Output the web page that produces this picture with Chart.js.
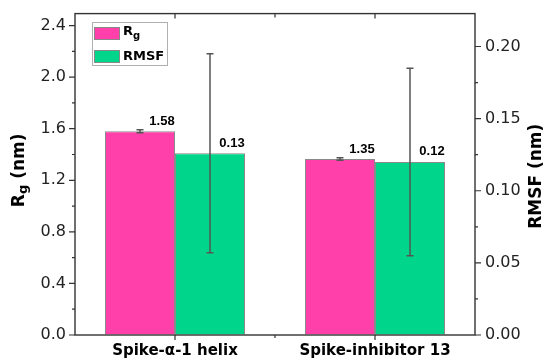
<!DOCTYPE html>
<html>
<head>
<meta charset="utf-8">
<script src="https://cdn.jsdelivr.net/npm/chart.js@4/dist/chart.umd.min.js"></script>
<style>
  html, body { margin: 0; padding: 0; background: #fff; }
  #wrap { width: 547px; height: 363px; }
</style>
</head>
<body>
<div id="wrap"><canvas id="chart" width="547" height="363"></canvas></div>
<script>
const categories = ["Spike-α-1 helix", "Spike-inhibitor 13"];
const rgValues = [1.58, 1.365];
const rgErrors = [0.012, 0.01];
const rmsfValues = [0.126, 0.12];
const rmsfErrors = [0.069, 0.065];
const rgText = ["1.58", "1.35"];
const rmsfText = ["0.13", "0.12"];
const rgTicks = [0, 0.4, 0.8, 1.2, 1.6, 2.0, 2.4];
const rmsfTicks = [0, 0.05, 0.1, 0.15, 0.2];

const PINK = "#ff40aa";
const GREEN = "#00d68b";
const AXIS = "#333";
const ERR = "#555";

function midpoints(arr) {
  const out = [];
  for (let i = 0; i < arr.length - 1; i++) out.push((arr[i] + arr[i + 1]) / 2);
  return out;
}

// draws text parts in a row, some of them as subscripts
function drawParts(ctx, parts, x, y) {
  let w = 0;
  parts.forEach(p => { ctx.font = p.font; w += ctx.measureText(p.text).width; });
  let cx = x;
  parts.forEach(p => {
    ctx.font = p.font;
    ctx.fillText(p.text, cx, y + (p.sub || 0));
    cx += ctx.measureText(p.text).width;
  });
  return w;
}

function partsWidth(ctx, parts) {
  let w = 0;
  parts.forEach(p => { ctx.font = p.font; w += ctx.measureText(p.text).width; });
  return w;
}

const decor = {
  id: "decor",
  afterDatasetsDraw(chart) {
    const ctx = chart.ctx;
    const errs = [rgErrors, rmsfErrors];
    const vals = [rgValues, rmsfValues];
    const texts = [rgText, rmsfText];
    ctx.save();
    [0, 1].forEach(di => {
      const meta = chart.getDatasetMeta(di);
      const scale = chart.scales[meta.yAxisID];
      meta.data.forEach((bar, i) => {
        const top = scale.getPixelForValue(vals[di][i] + errs[di][i]);
        const bot = scale.getPixelForValue(vals[di][i] - errs[di][i]);
        ctx.strokeStyle = ERR;
        ctx.lineWidth = 1.5;
        ctx.beginPath();
        ctx.moveTo(bar.x, top); ctx.lineTo(bar.x, bot);
        ctx.moveTo(bar.x - 3.5, top); ctx.lineTo(bar.x + 3.5, top);
        ctx.moveTo(bar.x - 3.5, bot); ctx.lineTo(bar.x + 3.5, bot);
        ctx.stroke();
        ctx.fillStyle = "#000";
        ctx.font = "bold 13px 'Liberation Sans', Arial, sans-serif";
        ctx.textAlign = "center";
        ctx.textBaseline = "middle";
        ctx.fillText(texts[di][i], bar.x + 22, bar.y - 10);
      });
    });
    ctx.restore();
  },
  afterDraw(chart) {
    const ctx = chart.ctx;
    const a = chart.chartArea;
    const yl = chart.scales.y;
    const yr = chart.scales.y2;
    const x = chart.scales.x;
    ctx.save();
    ctx.strokeStyle = AXIS;
    ctx.lineWidth = 1.4;
    ctx.strokeRect(a.left, a.top, a.right - a.left, a.bottom - a.top);

    ctx.lineWidth = 1.2;
    ctx.beginPath();
    rgTicks.forEach(v => { const p = yl.getPixelForValue(v); ctx.moveTo(a.left, p); ctx.lineTo(a.left - 6, p); });
    midpoints(rgTicks).forEach(v => { const p = yl.getPixelForValue(v); ctx.moveTo(a.left, p); ctx.lineTo(a.left - 3, p); });
    rmsfTicks.forEach(v => { const p = yr.getPixelForValue(v); ctx.moveTo(a.right, p); ctx.lineTo(a.right + 6, p); });
    midpoints(rmsfTicks).forEach(v => { const p = yr.getPixelForValue(v); ctx.moveTo(a.right, p); ctx.lineTo(a.right + 3, p); });
    const cx = categories.map((c, i) => x.getPixelForValue(i));
    cx.forEach(p => {
      ctx.moveTo(p, a.bottom); ctx.lineTo(p, a.bottom + 5);
      ctx.moveTo(p, a.top); ctx.lineTo(p, a.top + 5);
    });
    midpoints(cx).forEach(p => {
      ctx.moveTo(p, a.bottom); ctx.lineTo(p, a.bottom + 3);
      ctx.moveTo(p, a.top); ctx.lineTo(p, a.top + 4);
    });
    ctx.stroke();

    // axis titles
    ctx.fillStyle = "#000";
    ctx.textBaseline = "middle";
    ctx.textAlign = "left";
    const midY = (a.top + a.bottom) / 2;
    const leftTitle = [
      { text: "R", font: "bold 17px 'DejaVu Sans', sans-serif" },
      { text: "g", font: "bold 13px 'DejaVu Sans', sans-serif", sub: 4 },
      { text: " (nm)", font: "bold 17px 'DejaVu Sans', sans-serif" }
    ];
    ctx.save();
    ctx.translate(20, midY - 4);
    ctx.rotate(-Math.PI / 2);
    drawParts(ctx, leftTitle, -partsWidth(ctx, leftTitle) / 2, 0);
    ctx.restore();

    const rightTitle = [{ text: "RMSF (nm)", font: "bold 17px 'DejaVu Sans', sans-serif" }];
    ctx.save();
    ctx.translate(537, midY + 2);
    ctx.rotate(-Math.PI / 2);
    drawParts(ctx, rightTitle, -partsWidth(ctx, rightTitle) / 2, 0);
    ctx.restore();

    // legend
    ctx.strokeStyle = "#b0b0b0";
    ctx.lineWidth = 1;
    ctx.strokeRect(92.5, 22.5, 75, 43);
    ctx.strokeStyle = "#888";
    ctx.fillStyle = PINK;
    ctx.fillRect(94.5, 27.5, 25, 12);
    ctx.strokeRect(94.5, 27.5, 25, 12);
    ctx.fillStyle = GREEN;
    ctx.fillRect(94.5, 50.5, 25, 12);
    ctx.strokeRect(94.5, 50.5, 25, 12);
    ctx.fillStyle = "#000";
    drawParts(ctx, [
      { text: "R", font: "bold 13px 'DejaVu Sans', sans-serif" },
      { text: "g", font: "bold 10px 'DejaVu Sans', sans-serif", sub: 4 }
    ], 123, 32);
    drawParts(ctx, [{ text: "RMSF", font: "bold 13px 'DejaVu Sans', sans-serif" }], 123, 57);
    ctx.restore();
  }
};

new Chart(document.getElementById("chart"), {
  type: "bar",
  data: {
    labels: categories,
    datasets: [
      { label: "Rg", data: rgValues, yAxisID: "y", backgroundColor: PINK, borderColor: "#8a8a8a", borderWidth: 1 },
      { label: "RMSF", data: rmsfValues, yAxisID: "y2", backgroundColor: GREEN, borderColor: "#8a8a8a", borderWidth: 1 }
    ]
  },
  options: {
    responsive: false,
    animation: false,
    layout: { padding: { top: 13, left: 0, right: 0, bottom: 0 } },
    datasets: { bar: { categoryPercentage: 0.7, barPercentage: 1.0 } },
    plugins: { legend: { display: false }, tooltip: { enabled: false } },
    scales: {
      x: {
        offset: true,
        grid: { display: true, drawOnChartArea: false, tickLength: 5, tickColor: "transparent" },
        border: { display: false },
        ticks: { color: "#000", padding: 2, maxRotation: 0, font: { family: "'DejaVu Sans'", size: 15, weight: "bold" } },
        afterFit: (s) => { s.height = 28; }
      },
      y: {
        position: "left",
        min: 0,
        max: 2.4929,
        afterBuildTicks: (s) => { s.ticks = rgTicks.map(v => ({ value: v })); },
        grid: { display: true, drawOnChartArea: false, tickLength: 6, tickColor: "transparent" },
        border: { display: false },
        ticks: { color: "#222", padding: 3, font: { family: "'DejaVu Sans'", size: 16 }, callback: (v) => Number(v).toFixed(1) },
        afterFit: (s) => { s.width = 75; }
      },
      y2: {
        position: "right",
        min: 0,
        max: 0.2228,
        afterBuildTicks: (s) => { s.ticks = rmsfTicks.map(v => ({ value: v })); },
        grid: { display: true, drawOnChartArea: false, tickLength: 6, tickColor: "transparent" },
        border: { display: false },
        ticks: { color: "#222", padding: 4, font: { family: "'DejaVu Sans'", size: 16 }, callback: (v) => Number(v).toFixed(2) },
        afterFit: (s) => { s.width = 72; }
      }
    }
  },
  plugins: [decor]
});
</script>
</body>
</html>
